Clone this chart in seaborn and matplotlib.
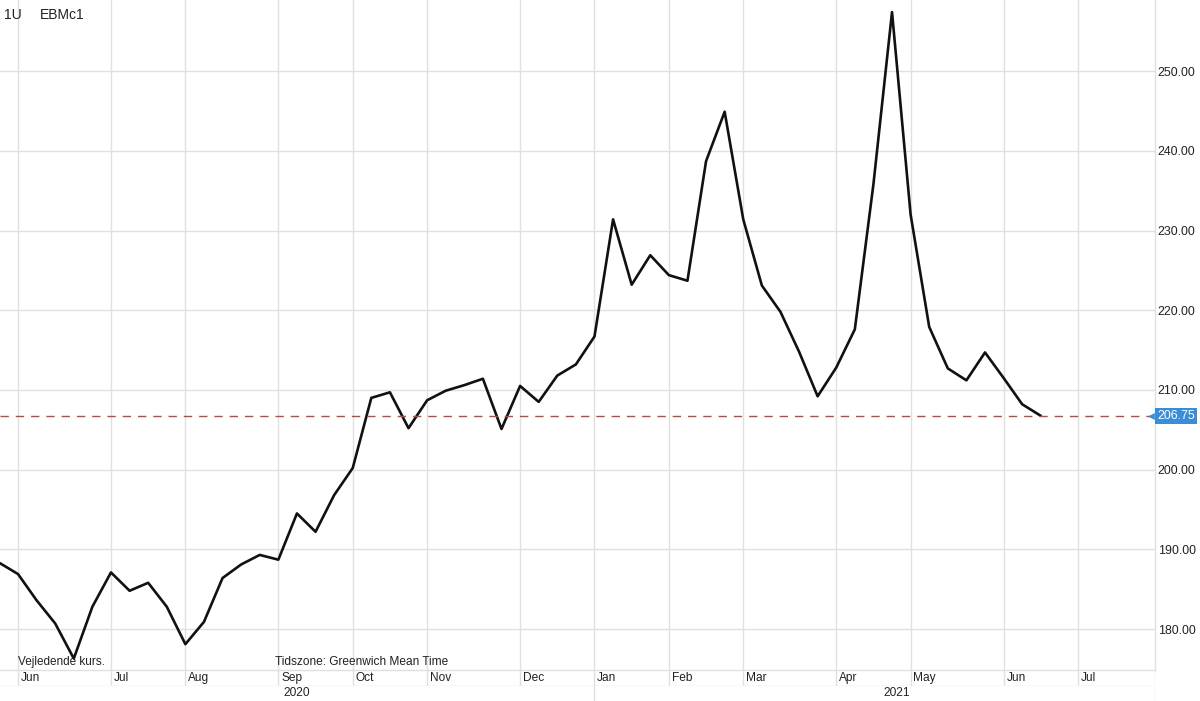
import numpy as np
import pandas as pd
import matplotlib
matplotlib.use("Agg")
import matplotlib.pyplot as plt
import matplotlib.dates as mdates
import matplotlib.transforms as mtransforms
import seaborn as sns

# weekly closes, EBMc1 (weeks starting Monday)
first_week = "2020-05-25"
prices = [
    188.3, 186.9, 183.6, 180.7, 176.3, 182.8, 187.1, 184.8, 185.8, 182.8,
    178.1, 180.9, 186.4, 188.1, 189.3, 188.7, 194.5, 192.2, 196.8, 200.2,
    209.0, 209.7, 205.2, 208.7, 209.9, 210.6, 211.4, 205.1, 210.5, 208.5,
    211.8, 213.2, 216.7, 231.4, 223.2, 226.9, 224.4, 223.7, 238.7, 244.9,
    231.4, 223.1, 219.8, 214.8, 209.2, 212.8, 217.6, 235.8, 257.4, 232.0,
    217.9, 212.7, 211.2, 214.7, 211.5, 208.2, 206.75,
]
last_price = 206.75

month_ticks = ["2020-06-01", "2020-07-06", "2020-08-03", "2020-09-07",
               "2020-10-05", "2020-11-02", "2020-12-07", "2021-01-04",
               "2021-02-01", "2021-03-01", "2021-04-05", "2021-05-03",
               "2021-06-07", "2021-07-05"]
month_labels = ["Jun", "Jul", "Aug", "Sep", "Oct", "Nov", "Dec",
                "Jan", "Feb", "Mar", "Apr", "May", "Jun", "Jul"]
year_labels = ["2020", "2021"]
y_ticks = [180, 190, 200, 210, 220, 230, 240, 250]

dates = pd.date_range(first_week, periods=len(prices), freq="7D")
df = pd.DataFrame({"date": dates, "price": prices})
ticks = pd.to_datetime(month_ticks)

sns.set_theme(style="white")
plt.rcParams["font.family"] = ["Liberation Sans", "DejaVu Sans"]

W, H = 1200, 701
fig = plt.figure(figsize=(12, 7.01), dpi=100)
grid_c = "#e0e0e0"
text_c = "#222222"

plot_r = 1155
plot_b = 670
ax = fig.add_axes([0, 1 - plot_b / H, plot_r / W, plot_b / H])

sns.lineplot(data=df, x="date", y="price", ax=ax, color="#111111", linewidth=1.9)
ax.axhline(last_price, color="#b84a44", lw=1.0, ls=(0, (6, 5)))

# scale: Jun 1 2020 sits 18 px from the left, 2.6566 px per day
px_day = 2.6566
jun1 = mdates.date2num(pd.Timestamp("2020-06-01"))
ax.set_xlim(jun1 - 18 / px_day, jun1 + (plot_r - 18) / px_day)
ax.set_ylim(174.86, 258.92)

ax.set_xticks(ticks)
ax.set_yticks(y_ticks)
ax.yaxis.tick_right()
ax.yaxis.set_major_formatter(matplotlib.ticker.FormatStrFormatter("%.2f"))
ax.tick_params(axis="x", length=0, labelbottom=False)
ax.tick_params(axis="y", length=0, pad=2, labelsize=8.9, colors=text_c)
ax.grid(True, color=grid_c, lw=1)
ax.set_xlabel("")
ax.set_ylabel("")
for s in ["top", "left"]:
    ax.spines[s].set_visible(False)
for s in ["right", "bottom"]:
    ax.spines[s].set_color(grid_c)
    ax.spines[s].set_linewidth(1)

# last price label
tr = mtransforms.blended_transform_factory(ax.transAxes, ax.transData)
ax.plot([1.0 - 3 / plot_r], [last_price], marker="<", ms=4, color="#3b8ed6",
        transform=tr, clip_on=False)
ax.text(1.0 + 2 / plot_r, last_price, f"{last_price:.2f}", transform=tr,
        ha="left", va="center", fontsize=8.9, color="white",
        bbox=dict(facecolor="#3b8ed6", edgecolor="none", boxstyle="square,pad=0.15"))

# month row
ax_m = fig.add_axes([0, 1 - 686 / H, plot_r / W, 16 / H], sharex=ax)
ax_m.set_ylim(0, 1)
ax_m.axis("off")
for t, lab in zip(ticks, month_labels):
    ax_m.axvline(t, color=grid_c, lw=1)
    ax_m.annotate(lab, (mdates.date2num(t), 0.5), xytext=(2, 0),
                  textcoords="offset points", ha="left", va="center",
                  fontsize=8.6, color=text_c)
ax_m.axhline(0, color=grid_c, lw=1)
ax_m.axvline(ax.get_xlim()[1], color=grid_c, lw=1)

# year row
ax_y = fig.add_axes([0, 0, plot_r / W, 15 / H], sharex=ax)
ax_y.set_ylim(0, 1)
ax_y.axis("off")
ax_y.axvline(ticks[7], color=grid_c, lw=1)
ax_y.axvline(ax.get_xlim()[1], color=grid_c, lw=1)
fig.text(297 / W, 1 - 693 / H, year_labels[0], ha="center", va="center",
         fontsize=8.6, color=text_c)
fig.text(897 / W, 1 - 693 / H, year_labels[1], ha="center", va="center",
         fontsize=8.6, color=text_c)

# header and footnotes
fig.text(4 / W, 1 - 15 / H, "1U", ha="left", va="center", fontsize=10, color=text_c)
fig.text(40 / W, 1 - 15 / H, "EBMc1", ha="left", va="center", fontsize=10, color=text_c)
fig.text(18 / W, 1 - 662 / H, "Vejledende kurs.", ha="left", va="center",
         fontsize=8.5, color=text_c)
fig.text(275 / W, 1 - 662 / H, "Tidszone: Greenwich Mean Time", ha="left",
         va="center", fontsize=8.6, color=text_c)

fig.savefig("out.png", dpi=100)
